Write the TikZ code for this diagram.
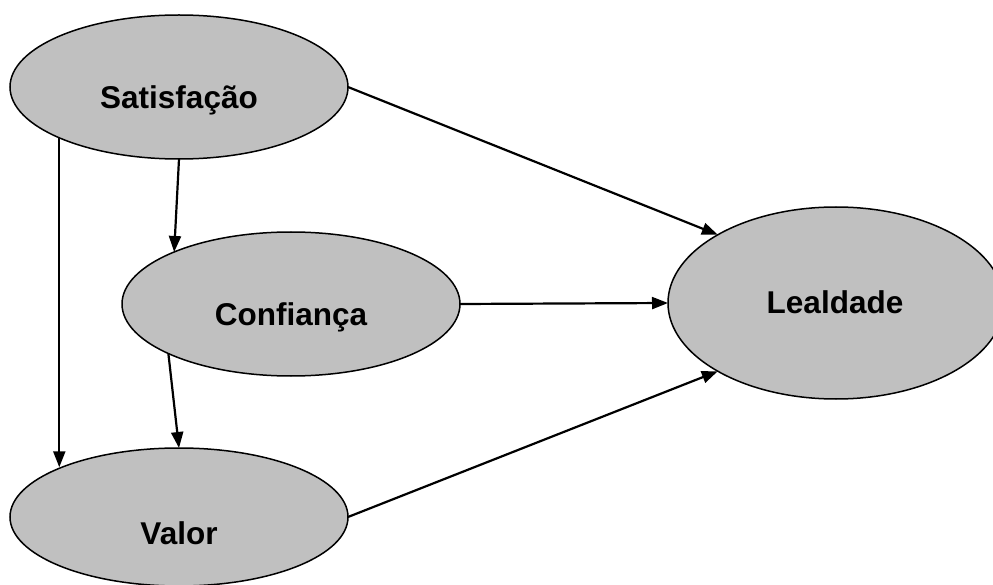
\documentclass[tikz,border=0pt]{standalone}
\usepackage{fontspec}
\setmainfont{Liberation Sans}
\usetikzlibrary{shapes.geometric,arrows.meta}
\definecolor{ovalgray}{RGB}{192,192,192}
\tikzset{
  oval/.style={ellipse, draw=black, line width=1.5pt, fill=ovalgray, inner sep=0pt, outer sep=0pt},
  lbl/.style={font=\fontsize{31.5}{36}\selectfont\bfseries, inner sep=0pt, anchor=center},
  arr/.style={line width=2.2pt, -{Triangle[length=16pt, width=12pt]}}
}
\begin{document}
\begin{tikzpicture}[x=1pt, y=-1pt]
\useasboundingbox (0,0) rectangle (993,585);
\clip (0,0) rectangle (993,585);
\node[oval, minimum width=338pt, minimum height=144pt] (sat) at (179,87) {};
\node[oval, minimum width=338pt, minimum height=144pt] (conf) at (291,304) {};
\node[oval, minimum width=338pt, minimum height=138pt] (val) at (179,517) {};
\node[oval, minimum width=336pt, minimum height=192pt] (leal) at (836,303) {};
\node[lbl] (satT) at (179,100) {Satisfação};
\node[lbl] (confT) at (291,317) {Confiança};
\node[lbl] (valT) at (179,533) {Valor};
\node[lbl] (lealT) at (835,302) {Lealdade};
\draw[arr] (sat.east) -- (leal.150);
\draw[arr] (conf.east) -- (leal.west);
\draw[arr] (val.east) -- (leal.210);
\draw[arr] (sat.south) -- (conf.156);
\draw[arr] (sat.203) -- (sat.203 |- val.157);
\draw[arr] (conf.202) -- (val.north);
\end{tikzpicture}
\end{document}
